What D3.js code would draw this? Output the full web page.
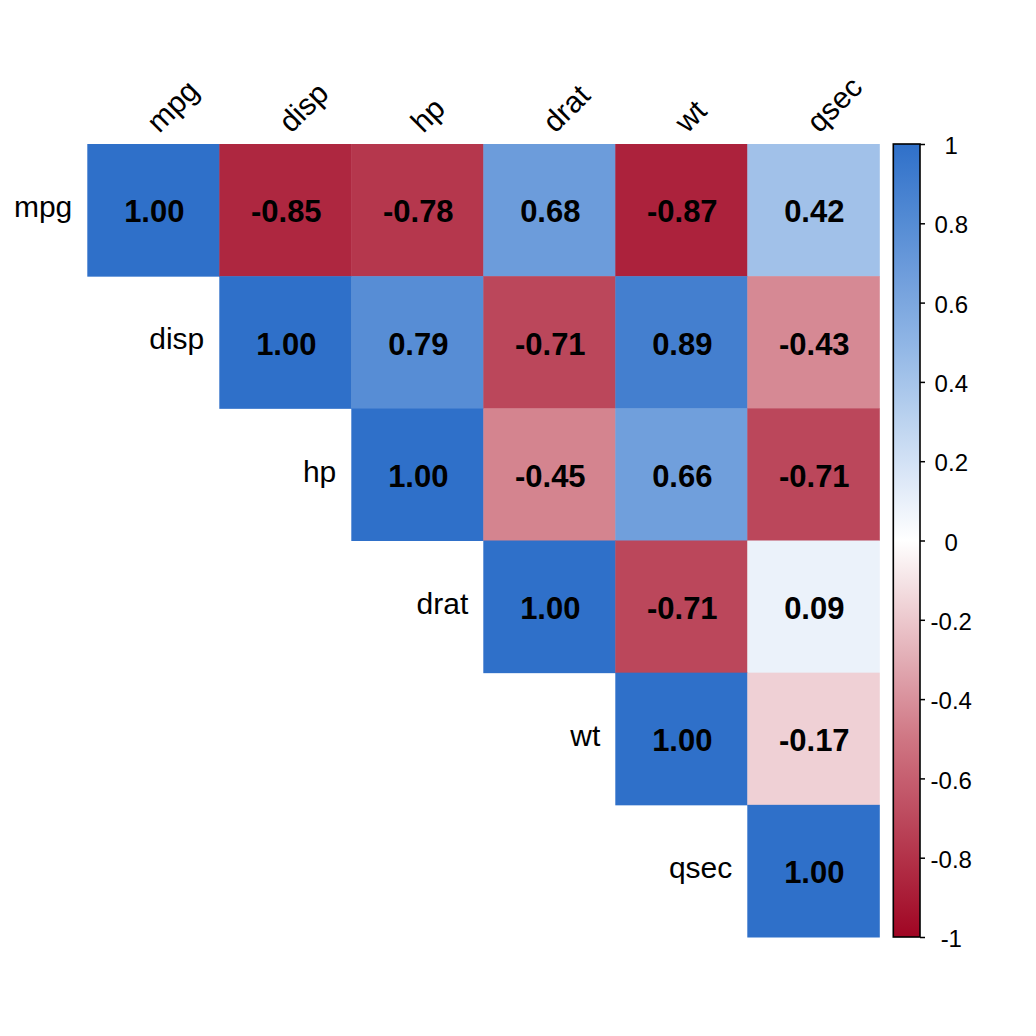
<!DOCTYPE html>
<html>
<head>
<meta charset="utf-8">
<script src="https://cdn.jsdelivr.net/npm/d3@7"></script>
<style>
  body { margin: 0; background: #fff; }
  text { font-family: "Liberation Sans", Arial, sans-serif; }
</style>
</head>
<body>
<div id="container"></div>
<script>
// variables of the correlation matrix
let vars = ['mpg', 'disp', 'hp', 'drat', 'wt', 'qsec'];

// upper triangle, one row per variable (starting at the diagonal)
let rowMpg  = [1.00, -0.85, -0.78, 0.68, -0.87, 0.42];
let rowDisp = [1.00, 0.79, -0.71, 0.89, -0.43];
let rowHp   = [1.00, -0.45, 0.66, -0.71];
let rowDrat = [1.00, -0.71, 0.09];
let rowWt   = [1.00, -0.17];
let rowQsec = [1.00];

let legendTicks = [-1, -0.8, -0.6, -0.4, -0.2, 0, 0.2, 0.4, 0.6, 0.8, 1];

let rows = [rowMpg, rowDisp, rowHp, rowDrat, rowWt, rowQsec];

let cells = [];
rows.forEach(function(r, i) {
    r.forEach(function(v, k) {
        cells.push({ row: vars[i], col: vars[i + k], value: v });
    });
});

let w = 1036,
    h = 1036;

let viz = d3.select('#container')
    .append('svg')
      .attr('width', w)
      .attr('height', h)
      .style('background', '#fff');

let x = d3.scaleBand().domain(vars).range([87.3, 879.3]);
let y = d3.scaleBand().domain(vars).range([144, 937]);

let color = d3.scaleLinear()
    .domain([-1, -0.5, 0, 0.5, 1])
    .range(['#a00523', '#cf7683', '#ffffff', '#8fb5e5', '#2f70c9'])
    .interpolate(d3.interpolateRgb);

// cells
viz.append('g')
  .selectAll('rect')
  .data(cells)
  .join('rect')
    .attr('x', d => x(d.col))
    .attr('y', d => y(d.row))
    .attr('width', x.bandwidth() + 0.5)
    .attr('height', y.bandwidth() + 0.5)
    .attr('fill', d => color(d.value));

// coefficients
viz.append('g')
  .selectAll('text')
  .data(cells)
  .join('text')
    .attr('x', d => x(d.col) + x.bandwidth() / 2 + 1)
    .attr('y', d => y(d.row) + y.bandwidth() / 2)
    .attr('text-anchor', 'middle')
    .attr('dy', '0.40em')
    .attr('font-size', 31)
    .attr('font-weight', 'bold')
    .attr('fill', '#000')
    .text(d => d.value.toFixed(2));

// row labels, to the left of the diagonal
viz.append('g')
  .selectAll('text')
  .data(vars)
  .join('text')
    .attr('x', d => x(d) - 15)
    .attr('y', d => y(d) + y.bandwidth() / 2)
    .attr('dy', '0.24em')
    .attr('text-anchor', 'end')
    .attr('font-size', 30)
    .text(d => d);

// column labels on top, rotated
viz.append('g')
  .selectAll('text')
  .data(vars)
  .join('text')
    .attr('transform', d => 'translate(' + (x(d) + x.bandwidth() / 2 + 6) + ',' + 134 + ') rotate(-45)')
    .attr('text-anchor', 'start')
    .attr('font-size', 30)
    .text(d => d);

// colour legend
let ly = d3.scaleLinear().domain([-1, 1]).range([937, 144]);
let lx0 = 893.3, lw = 26.7;

let defs = viz.append('defs');
let grad = defs.append('linearGradient')
    .attr('id', 'cgrad')
    .attr('x1', 0).attr('y1', 1).attr('x2', 0).attr('y2', 0);
grad.selectAll('stop')
  .data(d3.range(0, 1.0001, 0.05))
  .join('stop')
    .attr('offset', d => d)
    .attr('stop-color', d => color(d * 2 - 1));

viz.append('rect')
    .attr('x', lx0)
    .attr('y', ly(1))
    .attr('width', lw)
    .attr('height', ly(-1) - ly(1))
    .attr('fill', 'url(#cgrad)')
    .attr('stroke', '#000')
    .attr('stroke-width', 1.6);

let axis = viz.append('g')
    .attr('transform', 'translate(' + (lx0 + lw) + ',0)')
    .call(d3.axisRight(ly).tickValues(legendTicks).tickSize(5).tickFormat(d => String(+d.toFixed(1))));
axis.select('.domain').remove();
axis.selectAll('line').attr('stroke', '#000').attr('stroke-width', 1.5);
axis.selectAll('text')
    .attr('x', 31.3)
    .attr('dy', '0.40em')
    .attr('text-anchor', 'middle')
    .attr('font-size', 24)
    .attr('font-family', '"Liberation Sans", Arial, sans-serif')
    .attr('fill', '#000');
</script>
</body>
</html>
